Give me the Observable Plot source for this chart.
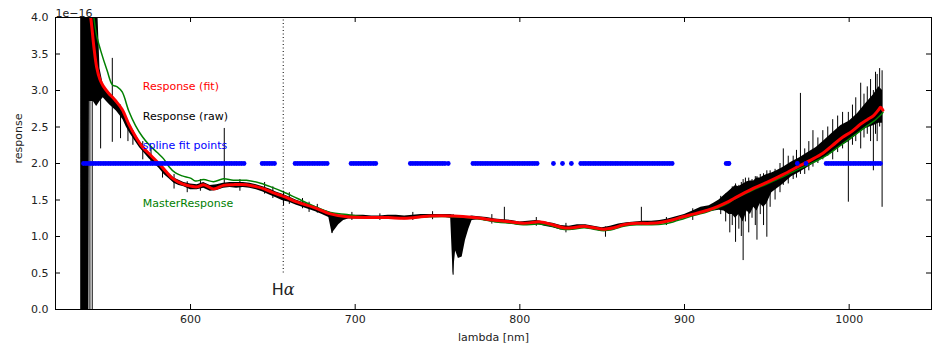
<!DOCTYPE html>
<html>
<head>
<meta charset="utf-8">
<script src="https://cdn.jsdelivr.net/npm/d3@7"></script>
<script src="https://cdn.jsdelivr.net/npm/@observablehq/plot@0.6"></script>
<style>
  html, body { margin: 0; padding: 0; background: #fff; }
  #chart { width: 938px; height: 349px; overflow: hidden; }
</style>
</head>
<body>
<div id="chart"></div>
<script>
// ---- tick labels ----
const xTicks = [600, 700, 800, 900, 1000];
const yTicks = [0, 0.5, 1.0, 1.5, 2.0, 2.5, 3.0, 3.5, 4.0];
const xDomain = [518, 1050];
const yDomain = [0, 4];

// ---- raw response (units of 1e-16): core envelope of the noisy spectrum ----
const rawLambda = [533.3, 538.3, 538.6, 541, 543, 545, 547, 549, 551, 553, 555, 557, 559, 561, 563, 566, 569, 572, 575, 578, 581, 584, 587, 590, 593, 596, 600, 604, 608, 612, 616, 620, 624, 628, 632, 636, 640, 644, 648, 652, 656, 660, 664, 668, 672, 676, 680, 684, 686, 688, 690, 693, 696, 700, 705, 710, 715, 720, 725, 730, 735, 740, 745, 750, 755, 758, 759.5, 761, 762.7, 765, 767, 769, 771, 775, 780, 785, 790, 795, 800, 805, 810, 815, 820, 825, 830, 835, 840, 845, 850, 855, 860, 865, 870, 875, 880, 885, 890, 895, 900, 905, 910, 915, 918, 921, 924, 927, 929, 931, 933, 935.6, 938, 940, 942, 944, 946, 948, 950, 953, 956, 960, 965, 970, 975, 980, 985, 990, 995, 1000, 1005, 1010, 1015, 1018, 1020.3];
const rawLo = [0, 0, 2.85, 2.85, 2.78, 2.85, 2.9, 2.85, 2.8, 2.76, 2.72, 2.66, 2.6, 2.5, 2.42, 2.32, 2.22, 2.14, 2.06, 2.0, 1.93, 1.85, 1.79, 1.73, 1.7, 1.68, 1.64, 1.64, 1.66, 1.62, 1.63, 1.66, 1.67, 1.66, 1.67, 1.66, 1.64, 1.61, 1.57, 1.53, 1.49, 1.47, 1.43, 1.4, 1.37, 1.34, 1.3, 1.26, 1.04, 1.1, 1.16, 1.22, 1.24, 1.24, 1.24, 1.24, 1.24, 1.24, 1.24, 1.23, 1.24, 1.25, 1.26, 1.26, 1.26, 1.25, 0.47, 0.8, 0.7, 0.72, 0.95, 1.1, 1.22, 1.23, 1.21, 1.19, 1.18, 1.17, 1.15, 1.16, 1.17, 1.14, 1.12, 1.09, 1.09, 1.11, 1.11, 1.09, 1.07, 1.09, 1.12, 1.14, 1.16, 1.16, 1.16, 1.17, 1.19, 1.21, 1.25, 1.28, 1.31, 1.34, 1.35, 1.36, 1.35, 1.3, 1.3, 1.25, 1.3, 1.2, 1.35, 1.3, 1.4, 1.35, 1.45, 1.4, 1.45, 1.6, 1.65, 1.72, 1.82, 1.88, 1.95, 2.02, 2.08, 2.15, 2.24, 2.3, 2.4, 2.48, 2.52, 2.55, 2.55];
const rawHi = [4.5, 4.5, 4.5, 4.5, 4.5, 3.3, 3.08, 3.0, 2.96, 2.92, 2.86, 2.8, 2.74, 2.64, 2.55, 2.42, 2.31, 2.23, 2.14, 2.08, 2.0, 1.93, 1.86, 1.8, 1.77, 1.74, 1.72, 1.71, 1.74, 1.7, 1.71, 1.73, 1.74, 1.74, 1.74, 1.73, 1.71, 1.68, 1.65, 1.61, 1.58, 1.54, 1.5, 1.47, 1.44, 1.41, 1.37, 1.34, 1.32, 1.3, 1.29, 1.29, 1.29, 1.29, 1.29, 1.28, 1.28, 1.29, 1.29, 1.28, 1.29, 1.3, 1.3, 1.3, 1.3, 1.3, 1.29, 1.28, 1.28, 1.28, 1.27, 1.27, 1.28, 1.27, 1.26, 1.24, 1.23, 1.22, 1.2, 1.21, 1.22, 1.2, 1.18, 1.15, 1.14, 1.16, 1.16, 1.14, 1.12, 1.14, 1.17, 1.19, 1.2, 1.21, 1.21, 1.22, 1.24, 1.27, 1.3, 1.35, 1.4, 1.42, 1.46, 1.5, 1.56, 1.62, 1.66, 1.7, 1.68, 1.72, 1.75, 1.76, 1.76, 1.8, 1.8, 1.83, 1.85, 1.87, 1.9, 1.95, 2.02, 2.08, 2.15, 2.22, 2.32, 2.42, 2.52, 2.58, 2.68, 2.82, 2.95, 3.05, 3.0];

// ---- raw response: individual noise spikes ----
const spikeLambda = [538.9, 540.3, 545.4, 552.5, 557.5, 562, 565, 571, 576, 583, 590, 598, 606, 620.5, 630, 645, 650, 656.5, 660, 668, 672, 677, 686, 698, 715, 735, 747, 759.5, 783, 790.6, 810, 828, 852, 873.8, 889, 905, 922, 925, 927.5, 929, 931, 933, 934.5, 935.6, 937, 939, 941, 943, 944, 946, 948, 950, 952, 955, 958, 960, 963, 966, 968, 970.4, 973, 975.5, 978, 981, 984, 987, 990, 993, 996, 999.5, 1002, 1004, 1007, 1009, 1011, 1013, 1014.7, 1016, 1017, 1018.5, 1020];
const spikeLo = [0, 0, 2.2, 2.29, 2.34, 2.3, 2.25, 2.05, 1.98, 1.8, 1.65, 1.6, 1.62, 1.7, 1.62, 1.58, 1.52, 1.42, 1.44, 1.38, 1.33, 1.32, 1.04, 1.22, 1.22, 1.22, 1.23, 0.47, 1.17, 1.18, 1.14, 1.05, 0.99, 1.15, 1.15, 1.22, 1.3, 1.2, 1.05, 1.15, 0.92, 1.1, 1.0, 0.67, 1.2, 1.05, 1.25, 1.15, 0.95, 1.3, 1.15, 0.99, 1.4, 1.5, 1.6, 1.7, 1.72, 1.78, 1.8, 1.85, 1.85, 1.9, 1.95, 2.0, 2.05, 2.1, 2.05, 2.15, 2.2, 1.47, 2.25, 2.3, 2.2, 2.35, 2.4, 2.3, 1.9, 2.4, 2.3, 2.5, 1.4];
const spikeHi = [3.0, 2.9, 2.9, 3.44, 2.8, 2.55, 2.45, 2.3, 2.2, 1.98, 1.85, 1.75, 1.78, 2.48, 1.78, 1.74, 1.68, 1.62, 1.6, 1.52, 1.47, 1.44, 1.32, 1.33, 1.31, 1.33, 1.34, 1.3, 1.3, 1.4, 1.26, 1.18, 1.13, 1.4, 1.26, 1.38, 1.55, 1.58, 1.62, 1.68, 1.72, 1.7, 1.74, 1.78, 1.8, 1.8, 1.78, 1.82, 1.82, 1.85, 1.86, 1.9, 1.9, 1.92, 2.0, 2.2, 2.1, 2.1, 2.18, 2.96, 2.2, 2.3, 2.45, 2.35, 2.45, 2.5, 2.6, 2.65, 2.7, 2.7, 2.8, 2.9, 3.1, 2.95, 3.05, 3.15, 3.0, 3.25, 3.22, 3.3, 3.27];

// ---- Response (fit) ----
const fitLambda = [535, 537, 539.3, 541.3, 543, 545, 547, 550, 554.5, 558.5, 562.5, 566.6, 570.7, 576.8, 582.8, 588.9, 595, 600, 604, 608, 614, 620, 626, 634, 640.5, 645, 650, 656.5, 665, 674.7, 685, 695, 709, 720, 730, 745, 760, 772, 786, 795, 802, 812.5, 820, 826.5, 832, 838.7, 845, 850.8, 857, 863, 871, 879, 887, 893, 899, 906, 914, 920, 926, 930, 940, 950, 960, 970, 977, 984, 990, 996, 1001, 1007, 1011, 1015, 1018, 1019, 1020.5];
const fitValue = [4.6, 4.35, 4.02, 3.6, 3.32, 3.15, 3.06, 2.97, 2.86, 2.74, 2.54, 2.37, 2.23, 2.09, 1.95, 1.8, 1.72, 1.69, 1.68, 1.71, 1.65, 1.7, 1.71, 1.71, 1.68, 1.65, 1.6, 1.55, 1.47, 1.4, 1.31, 1.27, 1.26, 1.26, 1.25, 1.28, 1.28, 1.26, 1.22, 1.2, 1.18, 1.2, 1.16, 1.12, 1.12, 1.14, 1.12, 1.1, 1.12, 1.16, 1.18, 1.18, 1.2, 1.23, 1.27, 1.31, 1.36, 1.41, 1.47, 1.52, 1.64, 1.74, 1.85, 1.97, 2.05, 2.14, 2.25, 2.36, 2.43, 2.54, 2.6, 2.66, 2.74, 2.77, 2.73];

// ---- MasterResponse ----
const masterLambda = [538, 541.3, 543, 545.4, 549.4, 552.5, 555.5, 558.5, 562.5, 566.6, 570.7, 574.7, 579.8, 583.8, 586.8, 590.9, 595, 600, 603, 608, 614, 620, 626, 634, 642.5, 650, 656.5, 665, 674.7, 685, 695, 709, 720, 730, 745, 760, 772, 786, 795, 802, 812, 820, 826, 832, 839, 845, 851, 857, 863, 871, 879, 887, 893, 899, 906, 914, 920, 926, 930, 940, 950, 960, 970, 977, 984, 990, 996, 1001, 1007, 1011, 1015, 1018, 1020.5];
const masterValue = [4.7, 4.0, 3.75, 3.55, 3.27, 3.08, 3.05, 2.98, 2.72, 2.52, 2.37, 2.26, 2.15, 2.06, 1.96, 1.87, 1.83, 1.8, 1.76, 1.78, 1.75, 1.79, 1.77, 1.77, 1.73, 1.67, 1.61, 1.52, 1.42, 1.33, 1.3, 1.26, 1.26, 1.25, 1.27, 1.27, 1.25, 1.2, 1.18, 1.16, 1.17, 1.14, 1.1, 1.1, 1.12, 1.1, 1.08, 1.1, 1.14, 1.16, 1.16, 1.17, 1.2, 1.24, 1.29, 1.34, 1.39, 1.45, 1.51, 1.62, 1.72, 1.82, 1.93, 2.0, 2.08, 2.17, 2.27, 2.35, 2.45, 2.52, 2.58, 2.64, 2.7];

// ---- spline fit points (all at 2.0e-16) ----
const splineLambda = [
  535, 536.5, 538, 539.5, 541, 542.5, 544, 545.5, 547, 548.5, 550, 551.5, 553, 554.5, 556, 557.5, 559, 560.5, 562, 563.5, 565, 566.5, 568, 569.5, 571, 572.5, 574, 575.5, 577, 578.5, 580, 581.5, 583, 584.5, 586, 587.5, 589, 590.5, 592, 593.5, 595, 596.5, 598, 599.5, 601, 602.5, 604, 605.5, 607, 608.5, 610, 611.5, 613, 614.5, 616, 617.5, 619, 620.5, 622, 623.5, 625, 626.5, 628, 629.5, 631, 632.5,
  643.5, 645, 646.5, 648, 649.5, 651,
  663.5, 665, 666.5, 668, 669.5, 671, 672.5, 674, 675.5, 677, 678.5, 680, 681.5, 683,
  697.5, 699, 700.5, 702, 703.5, 705, 706.5, 708, 709.5, 711, 712.5,
  733.5, 735, 736.5, 738, 739.5, 741, 742.5, 744, 745.5, 747, 748.5, 750, 751.5, 753, 754.5, 756.5,
  771.5, 773, 774.5, 776, 777.5, 779, 780.5, 782, 783.5, 785, 786.5, 788, 789.5, 791, 792.5, 794, 795.5, 797, 798.5, 800, 801.5, 803, 804.5, 806, 807.5, 809, 810.5,
  820.4, 825.9, 831.3,
  837, 838.5, 840, 841.5, 843, 844.5, 846, 847.5, 849, 850.5, 852, 853.5, 855, 856.5, 858, 859.5, 861, 862.5, 864, 865.5, 867, 868.5, 870, 871.5, 873, 874.5, 876, 877.5, 879, 880.5, 882, 883.5, 885, 886.5, 888, 889.5, 891, 892.5,
  925.3, 926.5, 927,
  968.5, 973.8,
  986, 987.5, 989, 990.5, 992, 993.5, 995, 996.5, 998, 999.5, 1001, 1002.5, 1004, 1005.5, 1007, 1008.5, 1010, 1011.5, 1013, 1014.5, 1016, 1017.5, 1019];
const splineLevel = 2.0;

// ---- annotations ----
const labelNames = ["Response (fit)", "Response (raw)", "spline fit points", "MasterResponse"];
const labelColors = ["#ff0000", "#000000", "#0000ff", "#008000"];
const labelLambda = [571, 571, 571, 571];
const labelLevel = [3.05, 2.64, 2.25, 1.45];
const halphaLambda = 656.3;
const halphaLineFrom = 0.5;
const halphaLabelLevel = 0.27;

// ---- build tables ----
const raw = rawLambda.map((l, i) => ({lambda: l, lo: rawLo[i], hi: rawHi[i]}));
const spikes = spikeLambda.map((l, i) => ({lambda: l, lo: spikeLo[i], hi: spikeHi[i]}));
const fit = fitLambda.map((l, i) => ({lambda: l, v: fitValue[i]}));
const master = masterLambda.map((l, i) => ({lambda: l, v: masterValue[i]}));
const spline = splineLambda.map(l => ({lambda: l, v: splineLevel}));
const labels = labelNames.map((t, i) => ({t, c: labelColors[i], x: labelLambda[i], y: labelLevel[i]}));

const W = 938, H = 349, mL = 55, mR = 7, mT = 17, mB = 40;
const tickPx = 5;
const yTick = tickPx * (yDomain[1] - yDomain[0]) / (H - mT - mB);
const xTick = tickPx * (xDomain[1] - xDomain[0]) / (W - mL - mR);

const chart = Plot.plot({
  width: W, height: H,
  marginLeft: mL, marginRight: mR, marginTop: mT, marginBottom: mB,
  x: {domain: xDomain, label: null},
  y: {domain: yDomain, label: null},
  style: {fontFamily: "'DejaVu Sans', sans-serif", fontSize: "11px", background: "#fff", color: "#000"},
  marks: [
    // raw spectrum
    Plot.areaY(raw, {x: "lambda", y1: "lo", y2: "hi", fill: "#000", clip: true}),
    Plot.ruleX(spikes, {x: "lambda", y1: "lo", y2: "hi", stroke: "#000", strokeWidth: 1, clip: true}),
    // master response
    Plot.line(master, {x: "lambda", y: "v", stroke: "#008000", strokeWidth: 1.5, curve: "catmull-rom", clip: true}),
    // fit
    Plot.line(fit, {x: "lambda", y: "v", stroke: "#ff0000", strokeWidth: 3, curve: "catmull-rom", clip: true}),
    // spline points
    Plot.dot(spline, {x: "lambda", y: "v", r: 2.4, fill: "#0000ff", stroke: null, clip: true}),
    // H-alpha marker
    Plot.ruleX([halphaLambda], {y1: halphaLineFrom, y2: yDomain[1], stroke: "#000", strokeWidth: 1, strokeDasharray: "1,2.5"}),
    Plot.text(["Hα"], {x: [halphaLambda], y: [halphaLabelLevel], fontSize: 16, fill: "#222", textAnchor: "middle"}),
    // annotations
    Plot.text(labels, {x: "x", y: "y", text: "t", fill: "c", textAnchor: "start", fontSize: 11}),
    // frame and inward ticks
    Plot.frame({stroke: "#000", strokeWidth: 1}),
    Plot.ruleX(xTicks, {y1: yDomain[0], y2: yDomain[0] + yTick, stroke: "#000"}),
    Plot.ruleX(xTicks, {y1: yDomain[1] - yTick, y2: yDomain[1], stroke: "#000"}),
    Plot.ruleY(yTicks, {x1: xDomain[0], x2: xDomain[0] + xTick, stroke: "#000"}),
    Plot.ruleY(yTicks, {x1: xDomain[1] - xTick, x2: xDomain[1], stroke: "#000"}),
    // axes labels
    Plot.axisX(xTicks, {tickSize: 0, tickPadding: 6, label: null, fontSize: 11, fill: "#222", tickFormat: d => String(d)}),
    Plot.axisY(yTicks, {tickSize: 0, tickPadding: 7, label: null, fontSize: 11, fill: "#222", tickFormat: d => d.toFixed(1)}),
    Plot.text(["lambda [nm]"], {frameAnchor: "bottom", dy: 31, fontSize: 11, fill: "#222"}),
    Plot.text(["response"], {frameAnchor: "left", dx: -37, rotate: -90, fontSize: 11, fill: "#222"}),
    Plot.text(["1e\u221216"], {frameAnchor: "top-left", textAnchor: "start", dy: -8, fontSize: 11, fill: "#222"})
  ]
});

// italic alpha as in the original mathtext label
chart.querySelectorAll("text").forEach(t => {
  if (t.textContent === "Hα") {
    t.textContent = "H";
    const ts = document.createElementNS("http://www.w3.org/2000/svg", "tspan");
    ts.setAttribute("font-style", "italic");
    ts.setAttribute("font-family", "'DejaVu Serif', serif");
    ts.textContent = "α";
    t.appendChild(ts);
  }
});

document.getElementById("chart").appendChild(chart);
</script>
</body>
</html>
